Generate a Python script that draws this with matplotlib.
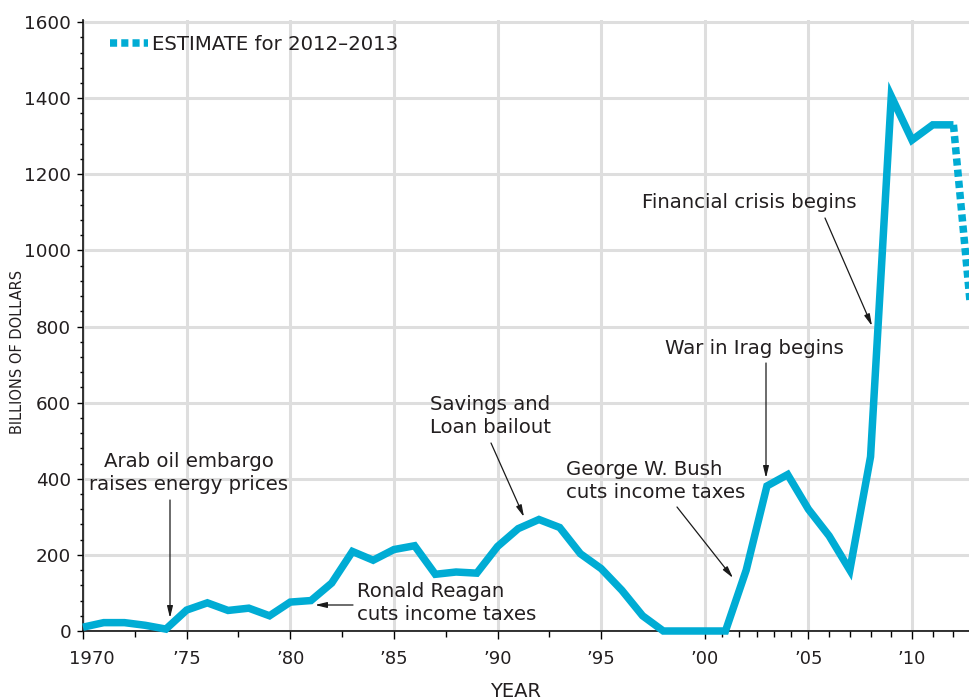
import matplotlib
matplotlib.use("Agg")
import matplotlib.pyplot as plt
from matplotlib.transforms import ScaledTranslation

# ---------------- data ----------------
years = list(range(1970, 2013))
deficit = [10, 22, 22, 15, 5, 55, 74, 54, 60, 40,
           76, 80, 126, 209, 186, 214, 224, 149, 155, 152,
           222, 269, 293, 272, 203, 164, 107, 40, 0, 0,
           0, 0, 160, 381, 411, 320, 250, 160, 458, 1405,
           1290, 1330, 1330]
est_years = [2012, 2013]
est_values = [1330, 750]

x_major = [1970, 1975, 1980, 1985, 1990, 1995, 2000, 2005, 2010]
x_labels = ["1970", "\u201975", "\u201980", "\u201985", "\u201990",
            "\u201995", "\u201900", "\u201905", "\u201910"]
x_minor = [1972.5, 1977.5, 1982.5, 1987.5, 1992.5,
           2000.833, 2001.667, 2002.5, 2003.333, 2004.167,
           2006, 2007, 2008, 2009, 2011, 2012]
y_major = [0, 200, 400, 600, 800, 1000, 1200, 1400, 1600]

# ---------------- style ----------------
W, H = 969, 699
LINE = "#00ACD4"
TXT = "#231f20"
GRID = "#dedede"
FS = 14.2
LW = 5.4

plt.rcParams["font.family"] = ["DejaVu Sans"]
fig = plt.figure(figsize=(W / 100, H / 100), dpi=100)
ax = fig.add_axes([83 / W, (H - 631) / H, 886 / W, (631 - 19.8) / H])

ax.plot(years, deficit, color=LINE, lw=LW, solid_joinstyle="miter",
        solid_capstyle="butt", clip_on=False, zorder=3)
est_line, = ax.plot(est_years, est_values, color=LINE, lw=LW,
                    linestyle=(0, (0.95, 0.55)), dash_capstyle="butt",
                    clip_on=False, zorder=3, label="ESTIMATE for 2012\u20132013")

ax.set_xlim(1970, 2012.75)
ax.set_ylim(0, 1606)

ax.set_xticks(x_major)
ax.set_xticklabels(x_labels)
ax.set_xticks(x_minor, minor=True)
ax.set_yticks(y_major)
ax.set_yticks([v for v in range(0, 1601, 40) if v % 200], minor=True)

ax.grid(which="major", color=GRID, lw=2.2)
ax.set_axisbelow(True)

for s in ["top", "right"]:
    ax.spines[s].set_visible(False)
for s in ["left", "bottom"]:
    ax.spines[s].set_linewidth(1.2)
    ax.spines[s].set_color("#111111")

ax.tick_params(axis="x", which="major", direction="out", length=6, width=1.0,
               pad=8, labelsize=13, labelcolor=TXT)
ax.tick_params(axis="x", which="minor", direction="out", length=4.5, width=1.0)
ax.tick_params(axis="y", which="major", direction="out", length=4.3, width=1.0,
               pad=4.3, labelsize=13.2, labelcolor=TXT)
ax.tick_params(axis="y", which="minor", direction="out", length=2.5, width=1.0)

# shift the 1970 label a little to the right, as in the original
lab0 = ax.get_xticklabels()[0]
lab0.set_transform(lab0.get_transform() + ScaledTranslation(9 / 100, 0, fig.dpi_scale_trans))

# axis titles
fig.text(18 / W, 1 - 352 / H, "BILLIONS OF DOLLARS", rotation=90, ha="center",
         va="center", fontsize=10.5, color=TXT)
fig.text(516 / W, 1 - 682 / H, "YEAR", ha="center", va="top", fontsize=14,
         color=TXT)

# legend
leg = ax.legend(handles=[est_line], loc="center left", frameon=False,
                bbox_to_anchor=(110 / W, 1 - 44 / H), bbox_transform=fig.transFigure,
                borderpad=0, borderaxespad=0, handlelength=1.95,
                handletextpad=0.2, fontsize=FS)
for t in leg.get_texts():
    t.set_color(TXT)

# annotations (positions in figure pixels measured from top-left)
def P(px, py):
    return (px, H - py)

arrow = dict(arrowstyle="-|>,head_length=0.7,head_width=0.17", color="#1a1a1a",
             lw=0.9, shrinkA=0, shrinkB=0)

notes = [
    ("Arab oil embargo\nraises energy prices", (189, 452), "center", (170, 500), (170, 618)),
    ("Ronald Reagan\ncuts income taxes", (357, 582), "left", (353, 605), (315, 605)),
    ("Savings and\nLoan bailout", (430, 395), "left", (491, 443), (524, 517)),
    ("George W. Bush\ncuts income taxes", (566, 460), "left", (677, 507), (733, 578)),
    ("War in Irag begins", (665, 339), "left", (766, 363), (766, 478)),
    ("Financial crisis begins", (642, 193), "left", (825, 218), (872, 326)),
]
for text, tpos, ha, tail, head in notes:
    fig.text(tpos[0] / W, 1 - tpos[1] / H, text, ha=ha, va="top", fontsize=FS,
             color=TXT, linespacing=1.3, multialignment=ha)
    ax.annotate("", xy=P(*head), xycoords="figure pixels",
                xytext=P(*tail), textcoords="figure pixels", arrowprops=arrow)

fig.savefig("out.png", dpi=100)
